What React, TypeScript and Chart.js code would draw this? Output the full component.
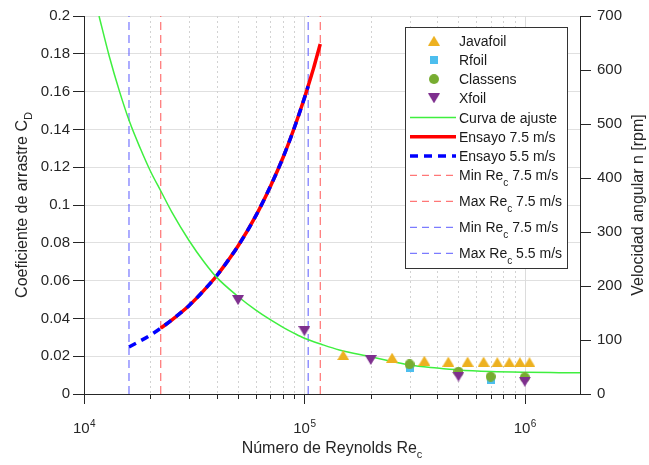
import React, { useEffect, useRef } from 'react';
import { Chart, registerables } from 'chart.js';

Chart.register(...registerables);

// ---------- data ----------
const X_MIN = 1e4;
const X_MAX = 1.78e6;
const X_DECADES = [4, 5, 6];
const CD_MIN = 0;
const CD_MAX = 0.2;
const CD_STEP = 0.02;
const RPM_MIN = 0;
const RPM_MAX = 700;
const RPM_STEP = 100;

const JAVAFOIL_RE = [1.5e5, 2.5e5, 3.5e5, 4.5e5, 5.5e5, 6.5e5, 7.5e5, 8.5e5, 9.5e5, 1.05e6];
const JAVAFOIL_CD = [0.0206, 0.0192, 0.0176, 0.0171, 0.0171, 0.0171, 0.0168, 0.0168, 0.0168, 0.0168];

const RFOIL_RE = [3e5, 7e5];
const RFOIL_CD = [0.0139, 0.0074];

const CLASSENS_RE = [3e5, 5e5, 7e5, 1e6];
const CLASSENS_CD = [0.0157, 0.0118, 0.0092, 0.0088];

const XFOIL_RE = [5e4, 1e5, 2e5, 5e5, 1e6];
const XFOIL_CD = [0.0497, 0.0333, 0.018, 0.0092, 0.0065];

const FIT_RE = [1.17e4, 1.3e4, 1.45e4, 1.61e4, 1.8e4, 2e4, 2.24e4, 2.5e4, 3e4, 3.5e4, 4e4, 5e4, 6e4, 7e4, 8e4, 9e4, 1e5, 1.2e5, 1.44e5, 2e5, 2.5e5, 3e5, 4e5, 5e5, 7e5, 1e6, 1.43e6, 1.78e6];
const FIT_CD = [0.2, 0.179, 0.16, 0.144, 0.13, 0.118, 0.107, 0.0964, 0.0811, 0.07, 0.0617, 0.0516, 0.0445, 0.0393, 0.0353, 0.0321, 0.0295, 0.0262, 0.0233, 0.0197, 0.0172, 0.0153, 0.0137, 0.0127, 0.0119, 0.0115, 0.0113, 0.0112];

const ENSAYO75_RE = [2.23e4, 2.5e4, 3e4, 3.5e4, 4e4, 4.5e4, 5e4, 6e4, 7e4, 8e4, 9e4, 1e5, 1.05e5, 1.1e5, 1.14e5, 1.18e5];
const ENSAYO75_N = [122, 137, 164, 192, 219, 247, 274, 329, 384, 438, 493, 548, 576, 603, 626, 648];

const ENSAYO55_RE = [1.6e4, 2e4, 2.23e4, 2.5e4, 3e4, 3.5e4, 4e4, 4.5e4, 5e4, 6e4, 7e4, 8e4, 9e4, 1e5, 1.04e5];
const ENSAYO55_N = [87, 109, 122, 137, 164, 192, 219, 247, 274, 329, 384, 438, 493, 548, 570];

const MIN_RE_75 = 2.23e4;
const MAX_RE_75 = 1.18e5;
const MIN_RE_55 = 1.6e4;
const MAX_RE_55 = 1.04e5;

const LEGEND_LABELS: string[][] = [
  ['Javafoil'],
  ['Rfoil'],
  ['Classens'],
  ['Xfoil'],
  ['Curva de ajuste'],
  ['Ensayo 7.5 m/s'],
  ['Ensayo 5.5 m/s'],
  ['Min Re', 'c', ' 7.5 m/s'],
  ['Max Re', 'c', ' 7.5 m/s'],
  ['Min Re', 'c', ' 7.5 m/s'],
  ['Max Re', 'c', ' 5.5 m/s'],
];

const X_TITLE = ['Número de Reynolds Re', 'c'];
const Y_TITLE = ['Coeficiente de arrastre C', 'D'];
const Y2_TITLE = 'Velocidad angular n [rpm]';

// ---------- styles ----------
const FONT = '"Liberation Sans", Arial, Helvetica, sans-serif';
const TEXT = '#262626';
const C_JAVA = '#EDB120';
const C_RFOIL = '#4DBEEE';
const C_CLASS = '#77AC30';
const C_XFOIL = '#7E2F8E';
const C_FIT = '#3fef3f';
const C_RED = '#ff0000';
const C_BLUE = '#0000ff';
const C_VRED = '#ff5555';
const C_VBLUE = '#5a5aff';

function makeMarker(shape: string, color: string, w: number, h: number): HTMLCanvasElement {
  const c = document.createElement('canvas');
  c.width = w;
  c.height = h;
  const ctx = c.getContext('2d')!;
  ctx.fillStyle = color;
  ctx.beginPath();
  if (shape === 'up') {
    ctx.moveTo(w / 2, 0);
    ctx.lineTo(w, h);
    ctx.lineTo(0, h);
  } else if (shape === 'down') {
    ctx.moveTo(0, 0);
    ctx.lineTo(w, 0);
    ctx.lineTo(w / 2, h);
  } else if (shape === 'square') {
    ctx.rect(0, 0, w, h);
  } else {
    ctx.arc(w / 2, h / 2, w / 2, 0, Math.PI * 2);
  }
  ctx.closePath();
  ctx.fill();
  return c;
}

const pts = (xs: number[], ys: number[]) => xs.map((x, i) => ({ x, y: ys[i] }));

function drawSubText(ctx: CanvasRenderingContext2D, parts: string[], x: number, y: number, size: number, subSize: number, subDy: number, align: 'left' | 'center') {
  const main = `${size}px ${FONT}`;
  const sub = `${subSize}px ${FONT}`;
  const widths = parts.map((p, i) => {
    ctx.font = i % 2 === 1 ? sub : main;
    return ctx.measureText(p).width;
  });
  const total = widths.reduce((a, b) => a + b, 0);
  let cx = align === 'center' ? x - total / 2 : x;
  ctx.textAlign = 'left';
  ctx.textBaseline = 'alphabetic';
  parts.forEach((p, i) => {
    ctx.font = i % 2 === 1 ? sub : main;
    ctx.fillText(p, cx, i % 2 === 1 ? y + subDy : y);
    cx += widths[i];
  });
}

const decorPlugin = {
  id: 'decor',
  beforeDatasetsDraw(chart: any) {
    const { ctx, chartArea: a, scales } = chart;
    const xs = scales.x;
    ctx.save();
    // vertical grid + x ticks
    for (const d of X_DECADES) {
      for (let m = 1; m <= 9; m++) {
        const v = m * Math.pow(10, d);
        if (v < X_MIN || v > X_MAX) continue;
        const px = Math.round(xs.getPixelForValue(v)) + 0.5;
        ctx.lineWidth = 1;
        if (m === 1) {
          ctx.setLineDash([]);
          ctx.strokeStyle = '#dcdcdc';
        } else {
          ctx.setLineDash([2, 3]);
          ctx.strokeStyle = '#d2d2d2';
        }
        if (px > a.left + 1) {
          ctx.beginPath();
          ctx.moveTo(px, a.top);
          ctx.lineTo(px, a.bottom);
          ctx.stroke();
        }
        ctx.setLineDash([]);
        ctx.strokeStyle = TEXT;
        ctx.beginPath();
        ctx.moveTo(px, a.bottom);
        ctx.lineTo(px, a.bottom + (m === 1 ? 10 : 5));
        ctx.stroke();
      }
    }
    ctx.restore();
  },
  afterDraw(chart: any) {
    const { ctx, chartArea: a, scales } = chart;
    const xs = scales.x;
    ctx.save();
    ctx.fillStyle = TEXT;
    // x tick labels 10^n
    for (const d of X_DECADES) {
      const v = Math.pow(10, d);
      if (v < X_MIN || v > X_MAX) continue;
      const px = xs.getPixelForValue(v);
      ctx.font = `15px ${FONT}`;
      const w1 = ctx.measureText('10').width;
      ctx.font = `10px ${FONT}`;
      const w2 = ctx.measureText(String(d)).width;
      const start = px - (w1 + w2) / 2;
      ctx.textAlign = 'left';
      ctx.textBaseline = 'alphabetic';
      ctx.font = `15px ${FONT}`;
      ctx.fillText('10', start, 433);
      ctx.font = `10px ${FONT}`;
      ctx.fillText(String(d), start + w1 + 0.5, 427);
    }
    // x title
    drawSubText(ctx, X_TITLE, (a.left + a.right) / 2, 453, 16, 11, 5, 'center');
    // y title
    ctx.save();
    ctx.translate(27, (a.top + a.bottom) / 2);
    ctx.rotate(-Math.PI / 2);
    drawSubText(ctx, Y_TITLE, 0, 0, 16, 11, 5, 'center');
    ctx.restore();
    // y2 title
    ctx.save();
    ctx.translate(643, (a.top + a.bottom) / 2);
    ctx.rotate(-Math.PI / 2);
    ctx.font = `16px ${FONT}`;
    ctx.textAlign = 'center';
    ctx.textBaseline = 'alphabetic';
    ctx.fillText(Y2_TITLE, 0, 0);
    ctx.restore();

    // legend
    const bx = 405.5, by = 27.5, bw = 162, bh = 241;
    ctx.fillStyle = '#ffffff';
    ctx.fillRect(bx, by, bw, bh);
    ctx.strokeStyle = '#333333';
    ctx.lineWidth = 1;
    ctx.setLineDash([]);
    ctx.strokeRect(bx, by, bw, bh);
    const markers = [
      makeMarker('up', C_JAVA, 12, 10),
      makeMarker('square', C_RFOIL, 8, 8),
      makeMarker('circle', C_CLASS, 10, 10),
      makeMarker('down', C_XFOIL, 12, 10),
    ];
    const lines = [
      { color: C_FIT, width: 1.5, dash: [] as number[] },
      { color: C_RED, width: 3.5, dash: [] as number[] },
      { color: C_BLUE, width: 3.5, dash: [8, 6] },
      { color: C_VRED, width: 1, dash: [7, 5] },
      { color: C_VRED, width: 1, dash: [7, 5] },
      { color: C_VBLUE, width: 1, dash: [7, 5] },
      { color: C_VBLUE, width: 1, dash: [7, 5] },
    ];
    LEGEND_LABELS.forEach((parts, i) => {
      const ry = i < 7 ? 40.7 + i * 19.2 : 175.3 + (i - 7) * 26;
      if (i < 4) {
        const m = markers[i];
        ctx.drawImage(m, 434 - m.width / 2, ry - m.height / 2);
      } else {
        const l = lines[i - 4];
        ctx.strokeStyle = l.color;
        ctx.lineWidth = l.width;
        ctx.setLineDash(l.dash);
        ctx.beginPath();
        ctx.moveTo(410, ry);
        ctx.lineTo(456, ry);
        ctx.stroke();
        ctx.setLineDash([]);
      }
      ctx.fillStyle = '#1a1a1a';
      drawSubText(ctx, parts, 459, ry + 5, 14, 10, 6, 'left');
    });
    ctx.restore();
  },
};

function buildConfig(): any {
  const mJava = makeMarker('up', C_JAVA, 12, 10);
  const mRfoil = makeMarker('square', C_RFOIL, 8, 8);
  const mClass = makeMarker('circle', C_CLASS, 10, 10);
  const mXfoil = makeMarker('down', C_XFOIL, 12, 10);
  const scatter = (label: string, data: any[], style: any, order: number) => ({
    label,
    data,
    yAxisID: 'y',
    showLine: false,
    pointStyle: style,
    pointRadius: 5,
    borderWidth: 0,
    order,
  });
  const vline = (label: string, v: number, color: string) => ({
    label,
    data: [{ x: v, y: CD_MIN }, { x: v, y: CD_MAX }],
    yAxisID: 'y',
    borderColor: color,
    borderWidth: 1,
    borderDash: [8, 5],
    pointRadius: 0,
    fill: false,
    order: 8,
  });
  return {
    type: 'line',
    data: {
      datasets: [
        scatter('Xfoil', pts(XFOIL_RE, XFOIL_CD), mXfoil, 1),
        scatter('Classens', pts(CLASSENS_RE, CLASSENS_CD), mClass, 2),
        scatter('Rfoil', pts(RFOIL_RE, RFOIL_CD), mRfoil, 3),
        scatter('Javafoil', pts(JAVAFOIL_RE, JAVAFOIL_CD), mJava, 4),
        {
          label: 'Curva de ajuste',
          data: pts(FIT_RE, FIT_CD),
          yAxisID: 'y',
          borderColor: C_FIT,
          borderWidth: 1.5,
          pointRadius: 0,
          cubicInterpolationMode: 'monotone',
          fill: false,
          order: 5,
        },
        {
          label: 'Ensayo 5.5 m/s',
          data: pts(ENSAYO55_RE, ENSAYO55_N),
          yAxisID: 'y2',
          borderColor: C_BLUE,
          borderWidth: 3.5,
          borderDash: [8, 6],
          pointRadius: 0,
          cubicInterpolationMode: 'monotone',
          fill: false,
          order: 6,
        },
        {
          label: 'Ensayo 7.5 m/s',
          data: pts(ENSAYO75_RE, ENSAYO75_N),
          yAxisID: 'y2',
          borderColor: C_RED,
          borderWidth: 3.5,
          pointRadius: 0,
          cubicInterpolationMode: 'monotone',
          fill: false,
          order: 7,
        },
        vline('Min Re 7.5', MIN_RE_75, C_VRED),
        vline('Max Re 7.5', MAX_RE_75, C_VRED),
        vline('Min Re 5.5', MIN_RE_55, C_VBLUE),
        vline('Max Re 5.5', MAX_RE_55, C_VBLUE),
      ],
    },
    options: {
      responsive: false,
      devicePixelRatio: 1,
      animation: false,
      events: [],
      layout: { padding: { top: 16, left: 0, right: 0, bottom: 0 } },
      plugins: { legend: { display: false }, tooltip: { enabled: false }, title: { display: false } },
      scales: {
        x: {
          type: 'logarithmic',
          min: X_MIN,
          max: X_MAX,
          ticks: { display: false },
          grid: { display: false },
          border: { display: true, color: TEXT, width: 1 },
          afterFit: (s: any) => { s.height = 71; },
        },
        y: {
          type: 'linear',
          position: 'left',
          min: CD_MIN,
          max: CD_MAX,
          ticks: {
            stepSize: CD_STEP,
            color: TEXT,
            font: { family: FONT, size: 15 },
            padding: 3,
            callback: (v: any) => String(+(+v).toFixed(2)),
          },
          grid: { color: '#e0e0e0', lineWidth: 1, tickLength: 11, tickColor: TEXT, drawTicks: true },
          border: { display: true, color: TEXT, width: 1 },
          afterFit: (s: any) => { s.width = 84; },
        },
        y2: {
          type: 'linear',
          position: 'right',
          min: RPM_MIN,
          max: RPM_MAX,
          ticks: {
            stepSize: RPM_STEP,
            color: TEXT,
            font: { family: FONT, size: 15 },
            padding: 6,
          },
          grid: { drawOnChartArea: false, tickLength: 11, tickColor: TEXT, drawTicks: true },
          border: { display: true, color: TEXT, width: 1 },
          afterFit: (s: any) => { s.width = 69; },
        },
      },
    },
    plugins: [decorPlugin],
  };
}

export default function App() {
  const ref = useRef<HTMLCanvasElement>(null);
  useEffect(() => {
    const chart = new Chart(ref.current!, buildConfig());
    return () => chart.destroy();
  }, []);
  return (
    <div style={{ position: 'absolute', left: 0, top: 0, width: 649, height: 465, background: '#fff' }}>
      <canvas ref={ref} width={649} height={465} style={{ display: 'block', width: 649, height: 465 }} />
    </div>
  );
}
